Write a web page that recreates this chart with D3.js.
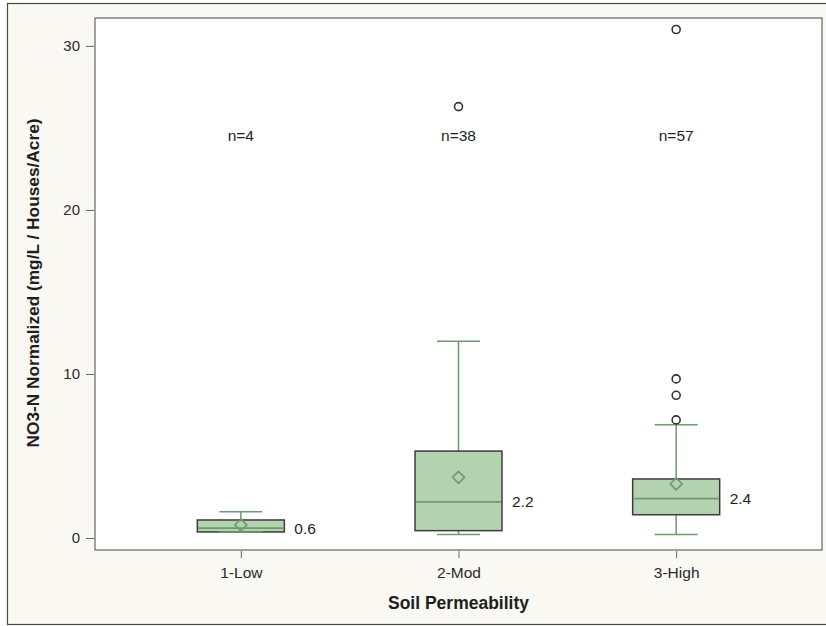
<!DOCTYPE html>
<html>
<head>
<meta charset="utf-8">
<script src="https://cdn.jsdelivr.net/npm/d3@7"></script>
<style>
  html, body { margin: 0; padding: 0; background: #fff; }
  svg { display: block; font-family: "Liberation Sans", Arial, sans-serif; }
</style>
</head>
<body>
<svg id="chart" width="826" height="626"></svg>
<script>
// Soil permeability classes and box-plot statistics for normalized NO3-N
const categories = ["1-Low", "2-Mod", "3-High"];
const counts     = [4, 38, 57];
const whiskerLow = [0.37, 0.22, 0.22];
const q1         = [0.37, 0.45, 1.42];
const medians    = [0.6, 2.2, 2.4];
const q3         = [1.1, 5.3, 3.6];
const whiskerHigh= [1.6, 12.0, 6.9];
const means      = [0.8, 3.7, 3.3];
const outliers   = [[], [26.3], [7.2, 8.7, 9.7, 31.0]];
const yTicks     = [0, 10, 20, 30];
const countLabelY = 24.5;

const W = 826, H = 626;
const plot = { left: 95, top: 18, right: 822, bottom: 550 };

const svg = d3.select("#chart");

// outer panel
svg.append("rect")
  .attr("x", 7.5).attr("y", 3.5).attr("width", W).attr("height", 621)
  .attr("fill", "#f9f8f2").attr("stroke", "#4a4a44").attr("stroke-width", 1.2);

// plot area
svg.append("rect")
  .attr("x", plot.left).attr("y", plot.top)
  .attr("width", plot.right - plot.left).attr("height", plot.bottom - plot.top)
  .attr("fill", "#ffffff").attr("stroke", "#66665c").attr("stroke-width", 1.2);

const x = d3.scalePoint().domain(categories).range([plot.left, plot.right]).padding(0.67);
const y = d3.scaleLinear().domain([-0.73, 31.7]).range([plot.bottom, plot.top]);

const boxW = 87, capW = 43;
const green = "#6f9a6e", fill = "#b3d3b0", dark = "#3c3c3c";

// y axis
const yAxis = svg.append("g")
  .attr("transform", `translate(${plot.left - 1},0)`)
  .call(d3.axisLeft(y).tickValues(yTicks).tickSize(8).tickPadding(6).tickFormat(d3.format("d")));
yAxis.select(".domain").remove();
yAxis.selectAll("line").attr("stroke", "#66665c");
yAxis.selectAll("text").attr("font-size", 15).attr("fill", "#2a2a2a").attr("font-family", "Liberation Sans, Arial, sans-serif");

// x axis
const xAxis = svg.append("g")
  .attr("transform", `translate(0,${plot.bottom + 1})`)
  .call(d3.axisBottom(x).tickSize(7).tickPadding(9));
xAxis.select(".domain").remove();
xAxis.selectAll("line").attr("stroke", "#66665c");
xAxis.selectAll("text").attr("font-size", 15.5).attr("fill", "#2a2a2a").attr("font-family", "Liberation Sans, Arial, sans-serif");

// axis titles
svg.append("text")
  .attr("x", (plot.left + plot.right) / 2).attr("y", 609)
  .attr("text-anchor", "middle").attr("font-weight", "bold").attr("font-size", 17.5).attr("fill", "#1e1e1e")
  .text("Soil Permeability");
svg.append("text")
  .attr("transform", "translate(39,283) rotate(-90)")
  .attr("text-anchor", "middle").attr("font-weight", "bold").attr("font-size", 17.3).attr("fill", "#1e1e1e")
  .text("NO3-N Normalized (mg/L / Houses/Acre)");

const g = svg.append("g");
categories.forEach((c, i) => {
  const cx = x(c);
  const grp = g.append("g");
  // whiskers
  grp.append("line").attr("x1", cx).attr("x2", cx).attr("y1", y(q3[i])).attr("y2", y(whiskerHigh[i]))
    .attr("stroke", green).attr("stroke-width", 1.5);
  grp.append("line").attr("x1", cx).attr("x2", cx).attr("y1", y(q1[i])).attr("y2", y(whiskerLow[i]))
    .attr("stroke", green).attr("stroke-width", 1.5);
  // box
  grp.append("rect")
    .attr("x", cx - boxW / 2).attr("y", y(q3[i]))
    .attr("width", boxW).attr("height", y(q1[i]) - y(q3[i]))
    .attr("fill", fill).attr("stroke", dark).attr("stroke-width", 1.5);
  // caps
  [whiskerHigh[i], whiskerLow[i]].forEach(v => {
    grp.append("line").attr("x1", cx - capW / 2).attr("x2", cx + capW / 2).attr("y1", y(v)).attr("y2", y(v))
      .attr("stroke", green).attr("stroke-width", 1.5);
  });
  // median
  grp.append("line").attr("x1", cx - boxW / 2 + 1).attr("x2", cx + boxW / 2 - 1)
    .attr("y1", y(medians[i])).attr("y2", y(medians[i]))
    .attr("stroke", green).attr("stroke-width", 1.8);
  // mean diamond
  const my = y(means[i]), r = 6;
  grp.append("path")
    .attr("d", `M${cx},${my - r}L${cx + r},${my}L${cx},${my + r}L${cx - r},${my}Z`)
    .attr("fill", "none").attr("stroke", green).attr("stroke-width", 1.6);
  // outliers
  grp.selectAll("circle").data(outliers[i]).join("circle")
    .attr("cx", cx).attr("cy", d => y(d)).attr("r", 4)
    .attr("fill", "#fff").attr("stroke", "#333").attr("stroke-width", 1.6);
  // median label
  grp.append("text")
    .attr("x", cx + boxW / 2 + 10).attr("y", y(medians[i]) + 5.5)
    .attr("font-size", 15.5).attr("fill", "#1e1e1e")
    .text(d3.format(".1f")(medians[i]));
  // sample size
  grp.append("text")
    .attr("x", cx).attr("y", y(countLabelY) + 5)
    .attr("text-anchor", "middle").attr("font-size", 15.5).attr("fill", "#1e1e1e")
    .text(`n=${counts[i]}`);
});
</script>
</body>
</html>
